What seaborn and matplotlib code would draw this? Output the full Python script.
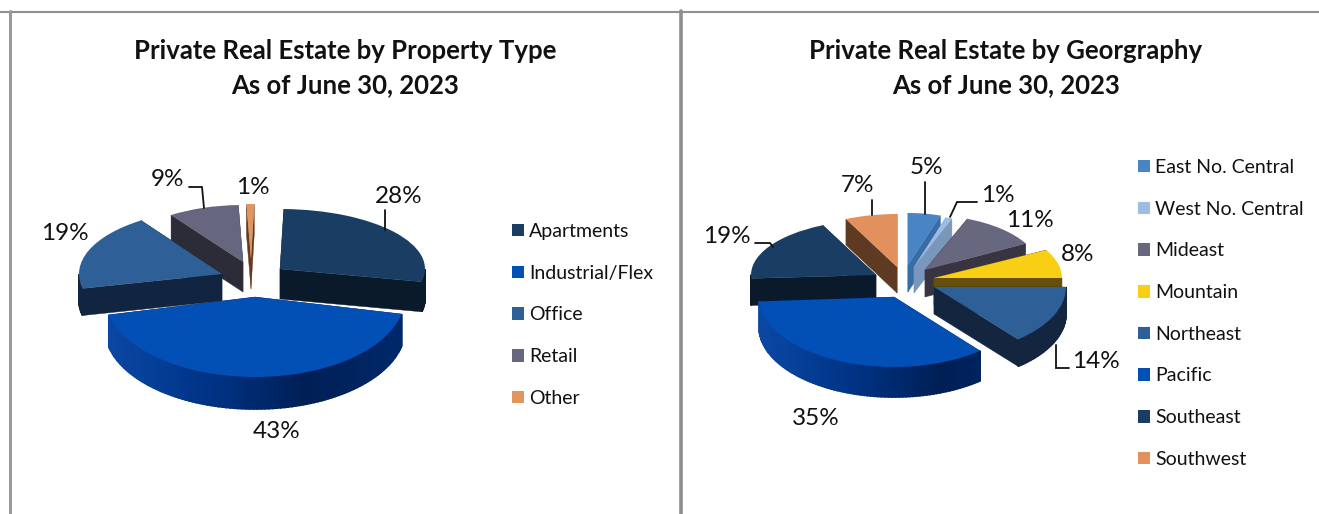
import numpy as np
import seaborn as sns
import matplotlib.pyplot as plt
from matplotlib.transforms import Affine2D

sns.set_theme(style="white")
plt.rcParams['font.family'] = ['Lato', 'DejaVu Sans']

# Left chart data
type_labels = ['Apartments', 'Industrial/Flex', 'Office', 'Retail', 'Other']
type_values = [28, 43, 19, 9, 1]
type_colors = ['#1a3e63', '#024fb5', '#2e6097', '#66667f', '#e39560']

# Right chart data
geo_labels = ['East No. Central', 'West No. Central', 'Mideast', 'Mountain',
              'Northeast', 'Pacific', 'Southeast', 'Southwest']
geo_values = [5, 1, 11, 8, 14, 35, 19, 7]
geo_colors = ['#4985c5', '#9cbce2', '#676780', '#f8cf14',
              '#2e6097', '#024fb5', '#1a3e63', '#e2915e']

# Left chart look: apex x, apex y, x radius, y radius, depth (pixels), slice shade
type_shapes = [(280, 269, 145, 60, 30), (255, 297, 150, 80, 32), (222, 274, 143, 65, 27),
               (243, 262, 127, 57, 30), (251, 259, 125, 55, 30)]
type_sides = [['#0b1a2b'], ['#0a48a5', '#003385', '#001f55', '#00296b'], ['#122540'],
              ['#2c2b38'], ['#633a20']]
type_order = [3, 4, 0, 2, 1]
type_spots = [(399, 195), (277, 430), (65, 232), (168, 178), (253, 186)]

# Right chart look
geo_shapes = [(908, 265, 105, 52, 27), (914, 267, 103, 52, 26), (925, 270, 115, 55, 27),
              (934, 278, 128, 58, 27), (934, 287, 132, 68, 27), (894, 297, 135, 70, 30),
              (876, 275, 125, 55, 27), (897, 267, 120, 53, 26)]
geo_sides = [['#376ca6'], ['#7a97bb'], ['#393442'], ['#665009'], ['#14253f'],
             ['#0a48a5', '#003385', '#001f55', '#00296b'], ['#0b1a2b'], ['#5f3a22']]
geo_order = [7, 0, 1, 2, 3, 4, 6, 5]
geo_spots = [(926, 166), (998, 194), (1030, 219), (1078, 253),
             (1096, 360), (816, 417), (727, 235), (858, 184)]

# Leader lines, x list and y list
leaders = [([189, 202, 204], [187, 187, 208]), ([385, 385], [210, 230]),
           ([925, 925], [182, 214]), ([977, 957, 950], [202, 202, 217]),
           ([872, 872], [200, 215]), ([755, 770, 773], [243, 243, 247]),
           ([1056, 1056, 1069], [345, 368, 368])]

fig = plt.figure(figsize=(13.19, 5.14), dpi=100, facecolor='white')
ax = fig.add_axes([0, 0, 1, 1])


def rim_xy(shape, theta):
    cx, cy, rx, ry, depth = shape
    t = np.radians(theta)
    return cx + rx * np.cos(t), cy - ry * np.sin(t)


def draw_pie(values, colors, shapes, sides, order, spots, start):
    wedges, _ = ax.pie(values, colors=colors, startangle=start, counterclock=False,
                       wedgeprops={'linewidth': 0})
    for rank, i in enumerate(order):
        w = wedges[i]
        shape = shapes[i]
        cx, cy, rx, ry, depth = shape
        z = 10 + rank * 3
        # flat cut faces first
        for theta in (w.theta1, w.theta2):
            ex, ey = rim_xy(shape, theta)
            ax.fill([cx, ex, ex, cx], [cy, ey, ey + depth, cy + depth],
                    color=sides[i][-1 if len(sides[i]) == 1 else 2], lw=0.3, zorder=z)
        # round side, shaded from left to right
        ramp = sns.blend_palette(sides[i] * (2 if len(sides[i]) == 1 else 1), 80)
        angles = np.arange(w.theta1, w.theta2 + 1.5, 1.5)
        angles = np.clip(angles, w.theta1, w.theta2)
        for a, b in zip(angles[:-1], angles[1:]):
            if np.sin(np.radians((a + b) / 2)) > 0:
                continue
            xa, ya = rim_xy(shape, a)
            xb, yb = rim_xy(shape, b)
            k = int(np.clip((xa - cx + rx) / (2 * rx), 0, 1) * 79)
            ax.fill([xa, xb, xb, xa], [ya, yb, yb + depth, ya + depth],
                    color=ramp[k], lw=1.2, zorder=z + 1)
        w.set_transform(Affine2D().scale(rx, -ry).translate(cx, cy) + ax.transData)
        w.set_zorder(z + 2)
    for v, (x, y) in zip(values, spots):
        ax.text(x, y + 1.5, f'{v}%', fontsize=17.5, color='#111111', ha='center', va='center', zorder=60)
    return wedges


type_wedges = draw_pie(type_values, type_colors, type_shapes, type_sides, type_order, type_spots, 88.5)
geo_wedges = draw_pie(geo_values, geo_colors, geo_shapes, geo_sides, geo_order, geo_spots, 90)

for xs, ys in leaders:
    ax.plot(xs, ys, color='#111111', lw=1.3, zorder=55, solid_joinstyle='miter')

# Panel rules
ax.plot([0, 1319], [11.8, 11.8], color='#8f8f8f', lw=1.5, zorder=70)
ax.plot([9.8, 9.8], [11, 514], color='#9a9a9a', lw=2.2, zorder=70)
ax.plot([681.3, 681.3], [11, 514], color='#8f8f8f', lw=2.6, zorder=70)

# Titles
for x, line1, line2 in [(345, 'Private Real Estate by Property Type', 'As of June 30, 2023'),
                        (1006, 'Private Real Estate by Georgraphy', 'As of June 30, 2023')]:
    ax.text(x, 51, line1, fontsize=18.5, fontweight='bold', color='#111111', ha='center', va='center')
    ax.text(x, 85, line2, fontsize=18.5, fontweight='bold', color='#111111', ha='center', va='center')

ax.set_xlim(0, 1319)
ax.set_ylim(514, 0)
ax.set_aspect('auto')
ax.axis('off')

# Legends
legend_kw = dict(loc='upper left', frameon=False, fontsize=14, borderpad=0, borderaxespad=0,
                 handlelength=0.62, handleheight=0.62, handletextpad=0.26, labelspacing=1.27,
                 bbox_transform=ax.transData, labelcolor='#111111')
first = ax.legend(type_wedges, type_labels, bbox_to_anchor=(512, 223), **legend_kw)
ax.add_artist(first)
ax.legend(geo_wedges, geo_labels, bbox_to_anchor=(1138, 159), **legend_kw)

fig.savefig('out.png', dpi=100)
